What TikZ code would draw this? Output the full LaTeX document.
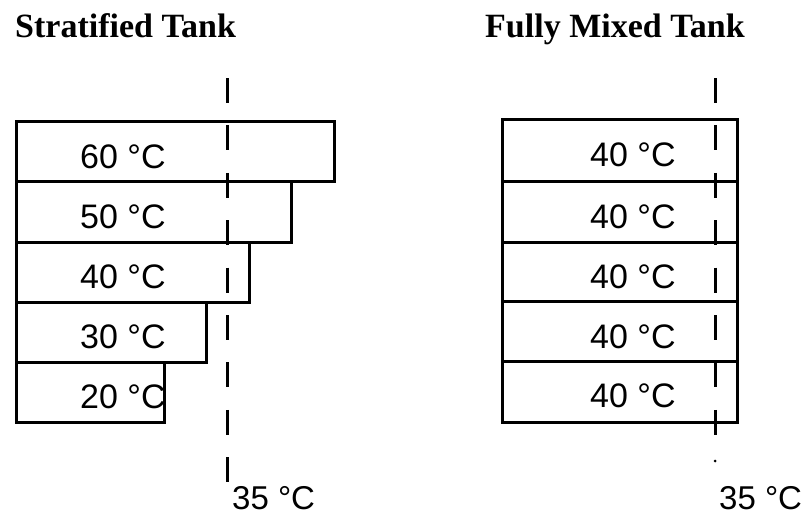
\documentclass[tikz,border=0pt]{standalone}
\usepackage{fontspec}
\setmainfont{Liberation Sans}
\newfontfamily\titlefont{Liberation Serif}
\begin{document}
\begin{tikzpicture}[x=1pt,y=-1pt,
  tankbox/.style={draw=black,line width=3pt,anchor=north west,inner sep=0pt,outer sep=0pt},
  templabel/.style={anchor=base west,inner sep=0pt,font=\fontsize{34}{36}\selectfont},
  titlelabel/.style={anchor=base west,inner sep=0pt,font=\titlefont\bfseries\fontsize{34}{36}\selectfont},
  refline/.style={draw=black,line width=3pt,dash pattern=on 25pt off 22.4pt}]
\useasboundingbox (0,0) rectangle (805,515);
% titles
\node[titlelabel] (t1) at (15,37) {Stratified Tank};
\node[titlelabel] (t2) at (485,37) {Fully Mixed Tank};
% stratified tank layers
\node[tankbox,minimum width=318pt,minimum height=60pt] (l1) at (16,121) {};
\node[tankbox,minimum width=275pt,minimum height=61pt] (l2) at (16,181) {};
\node[tankbox,minimum width=233pt,minimum height=60pt] (l3) at (16,242) {};
\node[tankbox,minimum width=190pt,minimum height=60pt] (l4) at (16,302) {};
\node[tankbox,minimum width=148pt,minimum height=60pt] (l5) at (16,362) {};
\node[templabel] (lt1) at (80,168) {60 °C};
\node[templabel] (lt2) at (80,228) {50 °C};
\node[templabel] (lt3) at (80,288) {40 °C};
\node[templabel] (lt4) at (80,348) {30 °C};
\node[templabel] (lt5) at (80,408) {20 °C};
% fully mixed tank layers
\node[tankbox,minimum width=235pt,minimum height=62pt] (r1) at (502,119) {};
\node[tankbox,minimum width=235pt,minimum height=61pt] (r2) at (502,181) {};
\node[tankbox,minimum width=235pt,minimum height=59pt] (r3) at (502,242) {};
\node[tankbox,minimum width=235pt,minimum height=60pt] (r4) at (502,301) {};
\node[tankbox,minimum width=235pt,minimum height=61pt] (r5) at (502,361) {};
\node[templabel] (rt1) at (590,166) {40 °C};
\node[templabel] (rt2) at (590,228) {40 °C};
\node[templabel] (rt3) at (590,288) {40 °C};
\node[templabel] (rt4) at (590,348) {40 °C};
\node[templabel] (rt5) at (590,407) {40 °C};
% 35 C reference lines
\coordinate (la) at (227,78);
\coordinate (lb) at (227,483);
\draw[refline] (la) -- (lb);
\coordinate (ra) at (715,78);
\coordinate (rb) at (715,436);
\draw[refline] (ra) -- (rb);
\coordinate (rdot) at (715,461);
\fill (rdot) circle (1.5pt);
\node[templabel,font=\fontsize{33}{36}\selectfont] (lref) at (232,509) {35 °C};
\node[templabel,font=\fontsize{33}{36}\selectfont] (rref) at (719,509) {35 °C};
\end{tikzpicture}
\end{document}
